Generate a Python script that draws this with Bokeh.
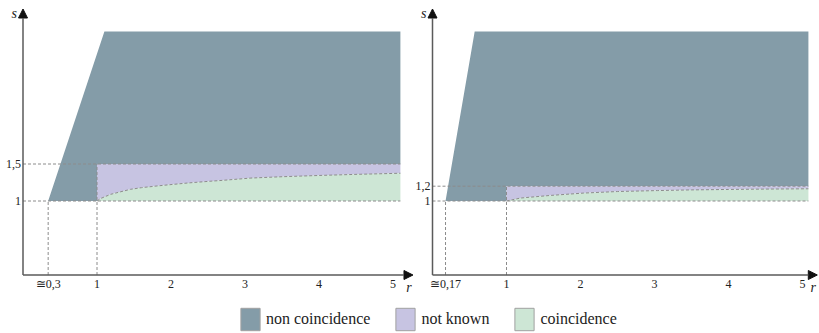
from bokeh.plotting import figure
from bokeh.layouts import column, row
from bokeh.models import ColumnDataSource, Range1d, Arrow, NormalHead, Legend, LegendItem
from bokeh.core.properties import value
from bokeh.embed import file_html
from bokeh.resources import INLINE

# ---------------- data ----------------
# left panel
r0_a = 0.34          # ≅0,3
r_top_a = 1.10
r_end_a = 5.10
s_mid_a = 1.5
s_top = 3.29
curve_r_a = [1.0, 1.05, 1.1, 1.185, 1.3, 1.455, 1.6, 1.81, 2.0, 2.27, 2.5, 2.71, 3.08, 3.5, 4.0, 4.5, 5.10]
curve_s_a = [1.0, 1.034, 1.055, 1.09, 1.12, 1.158, 1.18, 1.203, 1.222, 1.247, 1.265, 1.28, 1.31, 1.328, 1.345, 1.36, 1.375]
xticks_a = [0.34, 1, 2, 3, 4, 5]
xlabels_a = ["≅0,3", "1", "2", "3", "4", "5"]
yticks_a = [1, 1.5]
ylabels_a = ["1", "1,5"]

# right panel
r0_b = 0.176         # ≅0,17
r_top_b = 0.57
r_end_b = 5.08
s_mid_b = 1.2
curve_r_b = [1.0, 1.19, 1.59, 2.04, 2.5, 3.04, 3.5, 4.0, 4.5, 5.08]
curve_s_b = [1.0, 1.04, 1.075, 1.107, 1.128, 1.141, 1.15, 1.156, 1.161, 1.165]
xticks_b = [0.176, 1, 2, 3, 4, 5]
xlabels_b = ["≅0,17", "1", "2", "3", "4", "5"]
yticks_b = [1, 1.2]
ylabels_b = ["1", "1,2"]

legend_labels = ["non coincidence", "not known", "coincidence"]
colors = ["#849ca8", "#c7c4e2", "#cde6d5"]

FONT_NAME = "'Liberation Serif', 'Times New Roman', serif"
FONT = value(FONT_NAME)
PX = 74.0  # pixels per unit (both axes)


def panel(width, axis_px, r0, r_top, r_end, s_mid, cr, cs, xt, xl, yt, yl, r_tip):
    height = 300
    s0_px = 274.5
    p = figure(width=width, height=height, output_backend="svg", toolbar_location=None,
               x_axis_type=None, y_axis_type=None, min_border=0,
               x_range=Range1d(-axis_px / PX, (width - axis_px) / PX),
               y_range=Range1d(-(height - s0_px) / PX, s0_px / PX))
    p.outline_line_color = None
    s_tip = (s0_px - 8.5) / PX

    # regions
    nc_x = [r0, r_top, r_end, r_end, 1, 1]
    nc_y = [1, s_top, s_top, s_mid, s_mid, 1]
    nk_x = [1, r_end] + cr[::-1]
    nk_y = [s_mid, s_mid] + cs[::-1]
    co_x = cr + [r_end, 1]
    co_y = cs + [1, 1]
    p.patch(nc_x, nc_y, fill_color=colors[0], line_color=None)
    p.patch(nk_x, nk_y, fill_color=colors[1], line_color=None)
    p.patch(co_x, co_y, fill_color=colors[2], line_color=None)

    # dashed guides / boundaries
    dash = dict(line_color="#8c8c8c", line_dash="3 2", line_width=1)
    p.line([0, r_end], [1, 1], **dash)
    p.line([0, r_end], [s_mid, s_mid], **dash)
    p.line([r0, r0], [0, 1], **dash)
    p.line([1, 1], [0, s_mid], **dash)
    p.line(cr, cs, **dash)

    # axes with arrows
    head = dict(size=9, fill_color="#111111", line_color="#111111")
    p.add_layout(Arrow(end=NormalHead(**head), x_start=0, y_start=0, x_end=0, y_end=s_tip,
                       line_color="#5a5a5a", line_width=1.5))
    p.add_layout(Arrow(end=NormalHead(**head), x_start=0, y_start=0, x_end=r_tip, y_end=0,
                       line_color="#5a5a5a", line_width=1.5))

    # tick labels
    xs = ColumnDataSource(dict(x=xt, y=[0] * len(xt), t=xl))
    p.text(x="x", y="y", text="t", source=xs, text_font=FONT, text_font_size="12px",
           text_align="center", text_baseline="middle", y_offset=9, text_color="#222222")
    ys = ColumnDataSource(dict(x=[0] * len(yt), y=yt, t=yl))
    p.text(x="x", y="y", text="t", source=ys, text_font=FONT, text_font_size="12px",
           text_align="right", text_baseline="middle", x_offset=-2, text_color="#222222")

    # axis names
    p.text(x=[0], y=[s_tip], text=["s"], text_font=FONT, text_font_size="14px",
           text_font_style="italic", text_align="right", text_baseline="middle",
           x_offset=-6, y_offset=4, text_color="#222222")
    p.text(x=[r_tip], y=[0], text=["r"], text_font=FONT, text_font_size="14px",
           text_font_style="italic", text_align="center", text_baseline="middle",
           x_offset=-4, y_offset=12, text_color="#222222")
    return p


f1 = panel(414, 22.5, r0_a, r_top_a, r_end_a, s_mid_a, curve_r_a, curve_s_a,
           xticks_a, xlabels_a, yticks_a, ylabels_a, 5.27)
f2 = panel(405, 18.0, r0_b, r_top_b, r_end_b, s_mid_b, curve_r_b, curve_s_b,
           xticks_b, xlabels_b, yticks_b, ylabels_b, 5.20)

# legend
lp = figure(width=819, height=33, output_backend="svg", toolbar_location=None,
            x_axis_type=None, y_axis_type=None, min_border=0,
            x_range=Range1d(0, 1), y_range=Range1d(0, 1))
lp.outline_line_color = None
items = []
for lab, col in zip(legend_labels, colors):
    rr = lp.quad(left=[-5], right=[-4], top=[-4], bottom=[-5], fill_color=col, line_color="#a0a0a0")
    items.append(LegendItem(label=lab, renderers=[rr]))
leg = Legend(items=items, orientation="horizontal", location=(238, 0),
             label_text_font=FONT_NAME, label_text_font_size="16px",
             label_text_color="#222222",
             glyph_width=24, glyph_height=28, label_height=28, label_standoff=4,
             spacing=23, padding=0, margin=0, border_line_color=None,
             background_fill_alpha=0)
lp.add_layout(leg)

layout = column(row(f1, f2), lp)
open("out.html", "w").write(file_html(layout, INLINE))
